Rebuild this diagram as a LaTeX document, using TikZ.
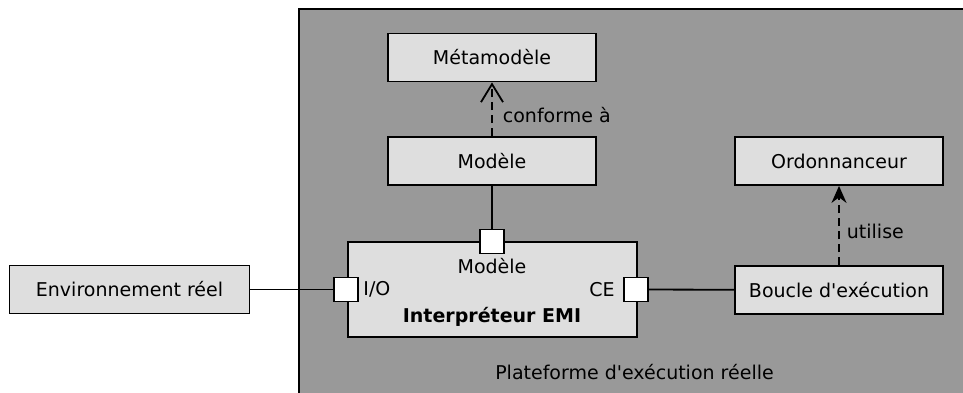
\documentclass[tikz,border=0pt]{standalone}
\usepackage{fontspec}
\setmainfont{DejaVu Sans}
\usetikzlibrary{arrows.meta}
\definecolor{fondplat}{HTML}{999999}
\definecolor{fondbloc}{HTML}{DEDEDE}

\begin{document}
\begin{tikzpicture}[x=0.5pt,y=-0.5pt,font=\fontsize{9.5}{11}\selectfont]
        \tikzstyle{bloc}=[draw,line width=0.9pt,fill=fondbloc,inner sep=0pt,minimum width=104pt,minimum height=24pt]
        \tikzstyle{port}=[draw,line width=0.9pt,fill=white,inner sep=0pt,minimum size=12pt]
        \tikzstyle{lien}=[line width=0.9pt]
        \tikzstyle{dep}=[line width=0.9pt,dash pattern=on 4pt off 2.5pt]
        \tikzstyle{etiq}=[inner sep=0pt]
        \useasboundingbox (0,0) rectangle (963,392);
        \node[draw,line width=0.9pt,fill=fondplat,minimum width=340pt,minimum height=200pt,anchor=north west] (plat) at (298,8) {};
        \node[etiq] (nomplat) at (634.5,372) {Plateforme d\textquotesingle exécution réelle};
        \node[bloc] (meta) at (492,57.5) {Métamodèle};
        \node[bloc] (modele) at (492,161) {Modèle};
        \node[bloc] (ordo) at (839,161) {Ordonnanceur};
        \node[bloc] (boucle) at (839,290) {Boucle d\textquotesingle exécution};
        \node[bloc,minimum width=120pt] (env) at (129.5,289.5) {Environnement réel};
        \node[bloc,minimum width=144.5pt,minimum height=47.5pt] (interp) at (492.5,289.75) {};
        \node[etiq,font=\fontsize{9.5}{11}\selectfont\bfseries] (nominterp) at (492,317) {Interpréteur EMI};
        \node[port] (pmod) at (492,241.5) {};
        \node[port] (pio) at (346,289.5) {};
        \node[port] (pce) at (636,289.5) {};
        \node[etiq] (lmod) at (492,266) {Modèle};
        \node[etiq,anchor=west] (lio) at (363,289.5) {I/O};
        \node[etiq,anchor=east] (lce) at (615,289.5) {CE};
        \draw[dep,-{Straight Barb[length=9pt,width=11pt]}] (modele) -- (meta)
            node[etiq,pos=0.4,anchor=west,xshift=5pt] (lconf) {conforme à};
        \draw[dep,-{Stealth[length=8.5pt,width=7.5pt]}] (boucle) -- (ordo)
            node[etiq,pos=0.42,anchor=west,xshift=3.5pt] (luti) {utilise};
        \draw[lien] (modele) -- (pmod);
        \draw[lien] (env) -- (pio);
        \draw[lien] (pce) -- (boucle);
\end{tikzpicture}
\end{document}
